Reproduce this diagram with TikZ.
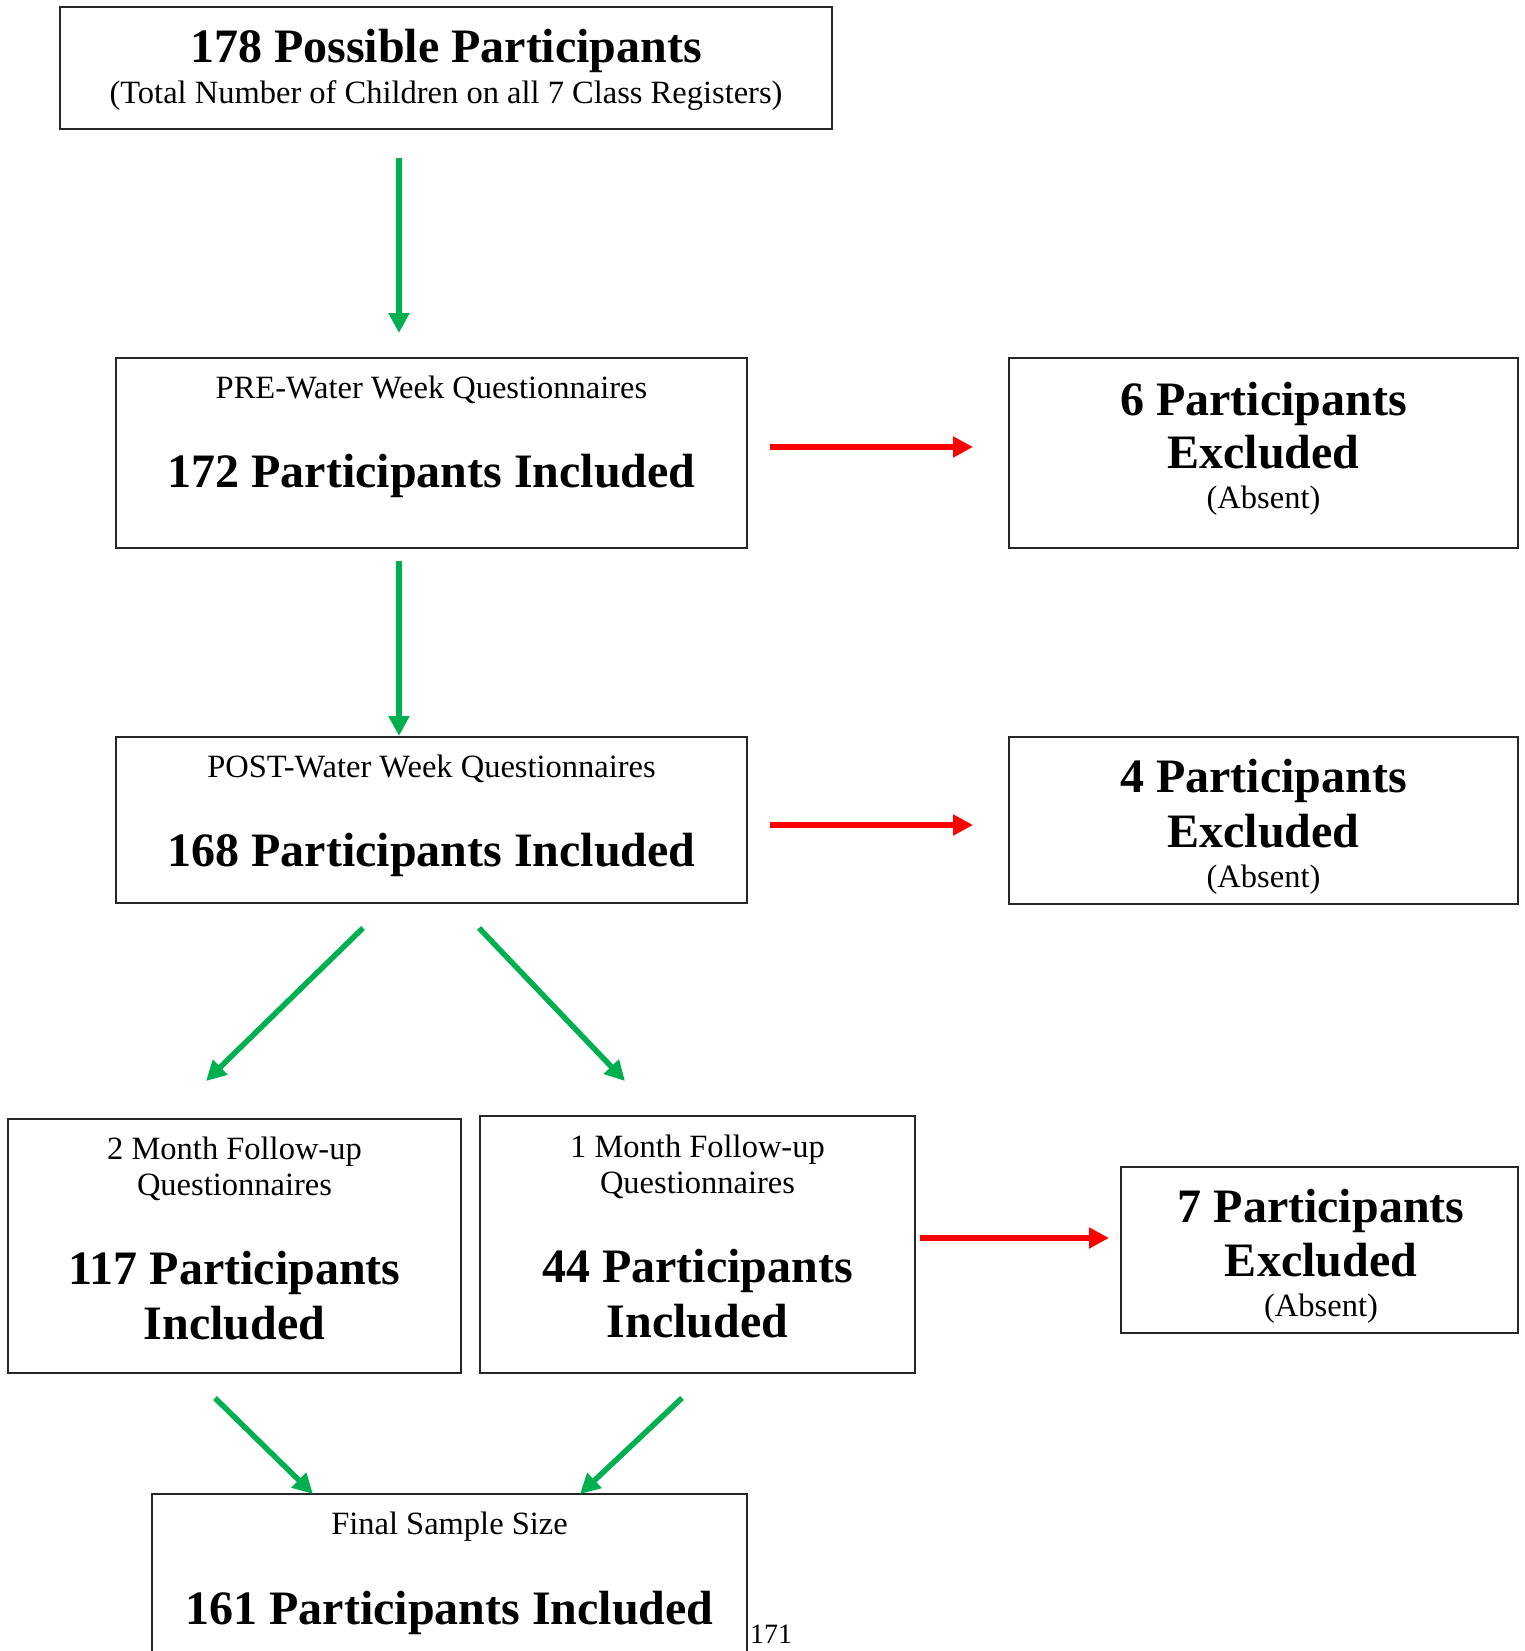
\documentclass[tikz,border=0pt]{standalone}
\usepackage{fontspec}
\setmainfont{Liberation Serif}
\usetikzlibrary{arrows.meta}
\definecolor{ggreen}{HTML}{00B050}
\definecolor{rred}{HTML}{FF0000}
\tikzset{
  box/.style={draw=black!85, line width=1.6pt, inner sep=0pt, rectangle},
  smalltxt/.style={font=\fontsize{32.5}{38}\selectfont, anchor=base, inner sep=0pt},
  bigtxt/.style={font=\bfseries\fontsize{48}{54}\selectfont, anchor=base, inner sep=0pt},
  garrow/.style={draw=ggreen, line width=5.5pt, -{Triangle[length=20pt,width=20pt]}},
  rarrow/.style={draw=rred, line width=6pt, -{Triangle[length=20pt,width=20pt]}},
}
\begin{document}
\begin{tikzpicture}[x=1pt,y=-1pt]
\useasboundingbox (0,0) rectangle (1525,1651);
\clip (0,0) rectangle (1525,1651);

% boxes
\node[box, minimum width=772pt, minimum height=122pt] (b1) at (446,68) {};
\node[box, minimum width=631pt, minimum height=190pt] (b2) at (431.5,453) {};
\node[box, minimum width=509pt, minimum height=190pt] (b3) at (1263.5,453) {};
\node[box, minimum width=631pt, minimum height=166pt] (b4) at (431.5,820) {};
\node[box, minimum width=509pt, minimum height=167pt] (b5) at (1263.5,820.5) {};
\node[box, minimum width=453pt, minimum height=254pt] (b6) at (234.5,1246) {};
\node[box, minimum width=435pt, minimum height=257pt] (b7) at (697.5,1244.5) {};
\node[box, minimum width=397pt, minimum height=166pt] (b8) at (1319.5,1250) {};
\node[box, minimum width=595pt, minimum height=226pt] (b9) at (449.5,1607) {};

% texts
\node[bigtxt] (t1a) at (446,63) {178 Possible Participants};
\node[smalltxt] (t1b) at (446,104) {(Total Number of Children on all 7 Class Registers)};

\node[smalltxt] (t2a) at (431.5,398) {PRE-Water Week Questionnaires};
\node[bigtxt] (t2b) at (431.5,487) {172 Participants Included};

\node[bigtxt] (t3a) at (1263.5,415) {6 Participants};
\node[bigtxt] (t3b) at (1263.5,468) {Excluded};
\node[smalltxt] (t3c) at (1263.5,508) {(Absent)};

\node[smalltxt] (t4a) at (431.5,777) {POST-Water Week Questionnaires};
\node[bigtxt] (t4b) at (431.5,866) {168 Participants Included};

\node[bigtxt] (t5a) at (1263.5,792) {4 Participants};
\node[bigtxt] (t5b) at (1263.5,847) {Excluded};
\node[smalltxt] (t5c) at (1263.5,887) {(Absent)};

\node[smalltxt] (t6a) at (234.5,1159) {2 Month Follow-up};
\node[smalltxt] (t6b) at (234.5,1195) {Questionnaires};
\node[bigtxt] (t6c) at (234.5,1284) {117 Participants};
\node[bigtxt] (t6d) at (234.5,1339) {Included};

\node[smalltxt] (t7a) at (697.5,1157) {1 Month Follow-up};
\node[smalltxt] (t7b) at (697.5,1193) {Questionnaires};
\node[bigtxt] (t7c) at (697.5,1282) {44 Participants};
\node[bigtxt] (t7d) at (697.5,1337) {Included};

\node[bigtxt] (t8a) at (1321,1222) {7 Participants};
\node[bigtxt] (t8b) at (1321,1276) {Excluded};
\node[smalltxt] (t8c) at (1321,1316) {(Absent)};

\node[smalltxt] (t9a) at (449.5,1534) {Final Sample Size};
\node[bigtxt] (t9b) at (449.5,1624) {161 Participants Included};

\node[font=\fontsize{28}{32}\selectfont, anchor=base west, inner sep=0pt] (pg) at (750,1643) {171};

% arrow end points
\coordinate (a1s) at (399,158);  \coordinate (a1e) at (399,333);
\coordinate (a2s) at (399,561);  \coordinate (a2e) at (399,736);
\coordinate (a3s) at (770,447);  \coordinate (a3e) at (973,447);
\coordinate (a4s) at (770,825);  \coordinate (a4e) at (973,825);
\coordinate (a5s) at (363,928);  \coordinate (a5e) at (206,1081);
\coordinate (a6s) at (479,928);  \coordinate (a6e) at (625,1081);
\coordinate (a7s) at (920,1238); \coordinate (a7e) at (1109,1238);
\coordinate (a8s) at (215,1398); \coordinate (a8e) at (313,1494);
\coordinate (a9s) at (682,1398); \coordinate (a9e) at (580,1494);

\draw[garrow] (a1s) -- (a1e);
\draw[garrow] (a2s) -- (a2e);
\draw[rarrow] (a3s) -- (a3e);
\draw[rarrow] (a4s) -- (a4e);
\draw[garrow] (a5s) -- (a5e);
\draw[garrow] (a6s) -- (a6e);
\draw[rarrow] (a7s) -- (a7e);
\draw[garrow] (a8s) -- (a8e);
\draw[garrow] (a9s) -- (a9e);
\end{tikzpicture}
\end{document}
